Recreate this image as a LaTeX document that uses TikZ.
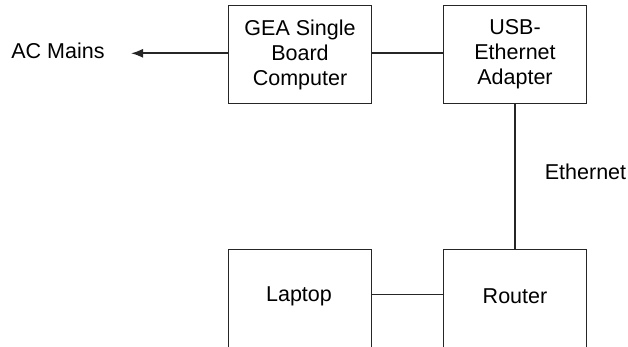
\documentclass[tikz,border=0pt]{standalone}
\usepackage{fontspec}
\setmainfont{Liberation Sans}
\usetikzlibrary{arrows.meta}
\begin{document}
\begin{tikzpicture}[x=1pt,y=-1pt,
  blk/.style={draw=black!85,line width=1.6pt,minimum width=143pt,minimum height=98pt,inner sep=0pt,align=center,font=\fontsize{21.5}{25}\selectfont},
  lbl/.style={font=\fontsize{21.5}{25}\selectfont,inner sep=0pt},
  wire/.style={draw=black!85,line width=1.6pt}]
\useasboundingbox (0,0) rectangle (628,347);
\node[blk] (gea) at (300,54.5) {GEA Single\\Board\\Computer};
\node[blk] (usb) at (515,54.5) {USB-\\Ethernet\\Adapter};
\node[blk] (lap) at (300,298.5) {};
\node[blk] (rou) at (515,298.5) {};
\node[lbl] (laptxt) at (299,296.5) {Laptop};
\node[lbl] (routxt) at (515,296.5) {Router};
\node[lbl] (ac) at (58,50.5) {AC Mains};
\node[lbl] (eth) at (585.5,171.5) {Ethernet};
\coordinate (tip) at (131,53.3);
\draw[wire,-{Latex[length=12pt,width=9pt]}] (gea.west |- 0,53.3) -- (tip);
\draw[wire] (gea.east |- 0,53.3) -- (usb.west |- 0,53.3);
\draw[wire] (usb.south) -- (rou.north);
\draw[wire] (lap.east |- 0,294.3) -- (rou.west |- 0,294.3);
\end{tikzpicture}
\end{document}
